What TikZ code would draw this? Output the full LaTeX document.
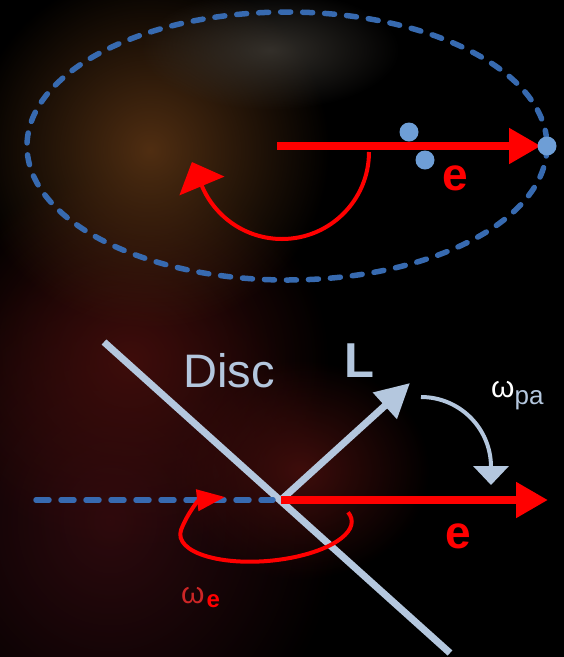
\documentclass[tikz,border=0pt]{standalone}
\usepackage{fontspec}
\setmainfont{Liberation Sans}
\usepackage{tikz}
\usetikzlibrary{arrows.meta, positioning, fadings}
\usepackage{xcolor}
\definecolor{skyblack}{RGB}{0,0,0}
\definecolor{dustbrown}{RGB}{80,46,18}
\definecolor{dustgrey}{RGB}{62,58,52}
\definecolor{dustred}{RGB}{62,13,11}
\definecolor{dustdeep}{RGB}{45,10,14}
\definecolor{eccred}{RGB}{255,0,0}
\definecolor{omegared}{RGB}{205,38,38}
\definecolor{disclight}{RGB}{180,199,222}
\definecolor{orbitblue}{RGB}{55,106,176}
\definecolor{dotblue}{RGB}{110,158,214}
\tikzfading[name=dustfade, inner color=transparent!0, outer color=transparent!100]
\tikzset{
  dust/.style={path fading=dustfade},
  orbitline/.style={draw=orbitblue, line width=5.5pt, dash pattern=on 10pt off 12pt, line cap=round},
  nodeline/.style={draw=orbitblue, line width=5.5pt, dash pattern=on 13pt off 12pt, line cap=round},
  discline/.style={draw=disclight, line width=7pt},
  ecc/.style={-{Triangle[length=32pt,width=34pt]}, line width=8pt, draw=eccred},
  angmom/.style={-{Triangle[length=34pt,width=34pt]}, line width=7pt, draw=disclight},
  eccturn/.style={-{Triangle[length=26pt,width=48pt]}, line width=4pt, draw=eccred},
  omegaturn/.style={-{Triangle[length=28pt,width=21pt]}, line width=4pt, draw=eccred},
  precess/.style={-{Triangle[length=19pt,width=35pt]}, line width=4pt, draw=disclight},
  orbdot/.style={circle, fill=dotblue, inner sep=0pt, minimum size=19pt},
  biglabel/.style={inner sep=0pt, anchor=base west, text=disclight, font=\fontsize{47}{47}\selectfont},
  elabel/.style={inner sep=0pt, text=eccred, font=\fontsize{46}{46}\selectfont\bfseries},
  omlabel/.style={inner sep=0pt, anchor=base west, font=\fontsize{30}{30}\selectfont}
}

\begin{document}
\begin{tikzpicture}[x=1pt,y=-1pt]
  \useasboundingbox (0,0) rectangle (564,657);
  \fill[skyblack] (0,0) rectangle (564,657);
  \fill[dustdeep,dust] (110,520) ellipse [x radius=230, y radius=260];
  \fill[dustred,dust] (130,360) ellipse [x radius=200, y radius=190];
  \fill[dustred,dust] (300,470) ellipse [x radius=130, y radius=110];
  \fill[dustbrown,dust] (150,150) ellipse [x radius=180, y radius=180];
  \fill[dustgrey,dust,opacity=.8] (270,50) ellipse [x radius=130, y radius=60];

  % orbit seen face-on
  \draw[orbitline] (287,146) ellipse [x radius=260, y radius=134];
  \coordinate (focus) at (277,146);
  \coordinate (peri) at (547,146);
  \draw[ecc] (focus) -- ([xshift=-6pt]peri);
  \coordinate (turnA) at (369,152);
  \draw[eccturn] (turnA) arc[start angle=0, end angle=157, radius=87] -- ++(-10,-24);
  \node[orbdot] (mA) at (409,132) {};
  \node[orbdot] (mB) at (425,160) {};
  \node[orbdot] (peridot) at (peri) {};
  \node[elabel] (etop) at (455,178) {e};

  % disc seen edge-on
  \coordinate (origin) at (281,500);
  \coordinate (discA) at (104,342);
  \coordinate (discB) at (450,653);
  \coordinate (nodeW) at (36,500);
  \coordinate (Ltip) at (410,383);
  \coordinate (ebot) at (548,500);
  \coordinate (wectlA) at (188,512);
  \coordinate (wectlB) at (199,500);
  \coordinate (wetip) at (225,497);
  \coordinate (precA) at (421,397);
  \draw[discline] (discA) -- (discB);
  \draw[nodeline] (nodeW) -- ([xshift=-8pt]origin);
  \draw[angmom] (origin) -- (Ltip);
  \draw[ecc] (origin) -- (ebot);
  \begin{scope}[shift={(266,528)}, rotate=5]
    \draw[omegaturn] (-15:86 and 33) arc[start angle=-15, end angle=190, x radius=86, y radius=33]
      .. controls (wectlA) and (wectlB) .. (wetip);
  \end{scope}
  \draw[precess] (precA) arc[start angle=-90, end angle=0, radius=70] -- ++(0,18);

  \node[biglabel] (disc) at (183,387) {Disc};
  \node[biglabel, font=\fontsize{49}{49}\selectfont\bfseries] (Llab) at (344,377) {L};
  \node[elabel] (ebotlab) at (458,536) {e};
  \node[omlabel, text=white] (ompa) at (491,397) {ω\textcolor{disclight}{\fontsize{26}{26}\selectfont\raisebox{-7pt}{pa}}};
  \node[omlabel, text=omegared] (ome) at (181,603) {ω\kern2pt\textcolor{eccred}{\fontsize{24}{24}\selectfont\bfseries\raisebox{-4pt}{e}}};
\end{tikzpicture}
\end{document}
